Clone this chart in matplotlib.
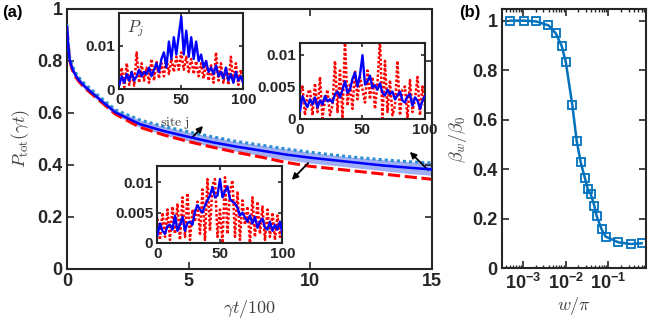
import numpy as np
import matplotlib
matplotlib.use("Agg")
import matplotlib.pyplot as plt
from matplotlib.ticker import FixedLocator, LogLocator, NullFormatter

plt.rcParams['font.family'] = ['Liberation Sans', 'DejaVu Sans']
plt.rcParams['font.weight'] = 'bold'
plt.rcParams['mathtext.fontset'] = 'custom'
plt.rcParams['mathtext.rm'] = 'Liberation Sans:bold'
plt.rcParams['mathtext.it'] = 'Liberation Sans:bold'
plt.rcParams['mathtext.bf'] = 'Liberation Sans:bold'

# ---------------- data: panel (a) main curves ----------------
t = [0, 0.05, 0.1, 0.2, 0.35, 0.5, 0.75, 1, 1.5, 2, 3, 4, 5, 6, 7, 8, 9, 10, 11, 12, 13, 14, 15]
p_red = [0.93, 0.86, 0.81, 0.77, 0.74, 0.72, 0.695, 0.675, 0.635, 0.595, 0.545, 0.515, 0.49,
         0.468, 0.448, 0.43, 0.41, 0.395, 0.385, 0.375, 0.365, 0.355, 0.345]
p_blue = [0.93, 0.86, 0.81, 0.775, 0.745, 0.725, 0.70, 0.68, 0.64, 0.602, 0.557, 0.53, 0.508,
          0.487, 0.47, 0.455, 0.44, 0.428, 0.418, 0.408, 0.398, 0.39, 0.383]
p_upper = [0.94, 0.87, 0.82, 0.785, 0.755, 0.735, 0.71, 0.69, 0.65, 0.612, 0.573, 0.548, 0.527,
           0.508, 0.49, 0.476, 0.462, 0.449, 0.438, 0.428, 0.42, 0.413, 0.408]
p_lower = [0.92, 0.85, 0.80, 0.765, 0.735, 0.715, 0.69, 0.67, 0.63, 0.592, 0.545, 0.515, 0.492,
           0.47, 0.452, 0.436, 0.42, 0.408, 0.398, 0.388, 0.378, 0.368, 0.36]

# ---------------- data: insets (site profiles, sites 0..100 step 2) ----------------
sites = list(range(0, 101, 2))
in1_blue = [0.001, 0.003, 0.0015, 0.0035, 0.002, 0.004, 0.002, 0.003, 0.0045, 0.003, 0.004,
            0.0035, 0.005, 0.003, 0.0045, 0.006, 0.004, 0.007,
            0.0085, 0.005, 0.011, 0.007, 0.012, 0.008, 0.0125,
            0.0167,
            0.008, 0.0135, 0.0075, 0.012, 0.007, 0.011, 0.0065,
            0.008, 0.005, 0.0065, 0.004, 0.005, 0.0035, 0.0055, 0.003,
            0.004, 0.0025, 0.005, 0.002, 0.0035, 0.0015, 0.004, 0.002, 0.003, 0.0015]
in1_red = [0.001, 0.005, 0.0005, 0.006, 0.001, 0.004, 0.0008, 0.0085, 0.0015, 0.006,
           0.002, 0.005, 0.0015, 0.007, 0.002, 0.0065, 0.0025, 0.006, 0.003, 0.0075,
           0.0035, 0.007, 0.004, 0.0075, 0.0045, 0.0085, 0.0045, 0.0075, 0.004, 0.007,
           0.0035, 0.0065, 0.003, 0.006, 0.0025, 0.0065, 0.002, 0.0055, 0.0015, 0.0085,
           0.002, 0.006, 0.0015, 0.005, 0.001, 0.0075, 0.0015, 0.006, 0.001, 0.0045, 0.0008]
in2_blue = [0.0012, 0.0035, 0.0025, 0.0018, 0.003, 0.0022, 0.0033, 0.0017, 0.0028, 0.0022,
            0.0035, 0.0027, 0.003, 0.0025, 0.0038, 0.0042, 0.0033, 0.0045, 0.0058, 0.004,
            0.0045, 0.0062, 0.0072, 0.005, 0.0068, 0.0099, 0.0053, 0.0058, 0.0067, 0.0048,
            0.0052, 0.0045, 0.0055, 0.004, 0.0036, 0.0045, 0.0038, 0.0042, 0.003, 0.0036,
            0.0042, 0.0028, 0.0025, 0.0035, 0.0038, 0.002, 0.0033, 0.0028, 0.0015, 0.0028, 0.0035]
in2_red = [0.004, 0.005, 0.0005, 0.004, 0.0045, 0.0005, 0.0055, 0.001, 0.0065, 0.0,
           0.003, 0.0045, 0.0005, 0.002, 0.009, 0.001, 0.0075, 0.0, 0.0125, 0.002,
           0.0055, 0.0015, 0.0075, 0.003, 0.0065, 0.0045, 0.0025, 0.0075, 0.003, 0.0065,
           0.0015, 0.0055, 0.0125, 0.0, 0.009, 0.001, 0.006, 0.0005, 0.002, 0.009,
           0.0005, 0.0045, 0.005, 0.0, 0.006, 0.001, 0.003, 0.0065, 0.0005, 0.005, 0.002]
in3_blue = [0.0013, 0.0032, 0.002, 0.0015, 0.0028, 0.003, 0.0022, 0.0045, 0.002, 0.003,
            0.0043, 0.002, 0.0033, 0.0035, 0.003, 0.0052, 0.0062, 0.0055, 0.005, 0.0062,
            0.007, 0.0078, 0.0092, 0.0075, 0.0078, 0.0105, 0.0075, 0.0085, 0.0093, 0.0072,
            0.0068, 0.0065, 0.0058, 0.0045, 0.005, 0.0042, 0.0035, 0.0045, 0.0032, 0.0043,
            0.0025, 0.0035, 0.004, 0.0025, 0.0022, 0.0035, 0.002, 0.003, 0.0022, 0.0035, 0.0015]
in3_red = [0.004, 0.0005, 0.005, 0.001, 0.0055, 0.0005, 0.006, 0.0015, 0.0065, 0.0005,
           0.0075, 0.001, 0.0082, 0.0005, 0.0055, 0.0035, 0.0068, 0.0015, 0.0088, 0.0005,
           0.0105, 0.002, 0.0095, 0.0105, 0.001, 0.0055, 0.0, 0.0108, 0.0015, 0.0085,
           0.0103, 0.001, 0.0085, 0.0005, 0.007, 0.003, 0.006, 0.0, 0.0075, 0.001,
           0.0068, 0.0015, 0.006, 0.0005, 0.0055, 0.001, 0.005, 0.0005, 0.0045, 0.001, 0.004]

# ---------------- data: panel (b) ----------------
w_over_pi = [5.1e-4, 1.07e-3, 2.05e-3, 3.98e-3, 5.9e-3, 8.1e-3, 1.01e-2, 1.44e-2, 1.82e-2,
             2.26e-2, 2.85e-2, 3.29e-2, 3.87e-2, 4.71e-2, 5.34e-2, 6.99e-2, 8.66e-2,
             0.171, 0.332, 0.60]
beta_ratio = [1.0, 1.0, 0.997, 0.981, 0.949, 0.898, 0.834, 0.659, 0.515, 0.428, 0.363,
              0.320, 0.300, 0.253, 0.211, 0.157, 0.128, 0.105, 0.098, 0.101]

FRAME = '#262626'
MBLUE = '#0072BD'

fig = plt.figure(figsize=(6.54, 3.27), dpi=100)


def style_axes(ax, lw=1.5, size=12, tl=4):
    for s in ax.spines.values():
        s.set_linewidth(lw)
        s.set_color(FRAME)
    ax.tick_params(direction='in', top=True, right=True, length=tl, width=1.2,
                   colors=FRAME, labelcolor=FRAME, labelsize=size, pad=3)
    for lab in ax.get_xticklabels() + ax.get_yticklabels():
        lab.set_fontweight('bold')


# ---------------- panel (a) ----------------
axa = fig.add_axes([0.1024, 0.1774, 0.5581, 0.7951])
axa.fill_between(t, p_lower, p_upper, color='#8fa0f2', alpha=0.85, lw=0, zorder=1)
axa.plot(t, p_red, color='red', ls=(0, (4, 1.5)), lw=2.2, zorder=2)
axa.plot(t, p_upper, color='#2f8fd3', ls=(0, (1, 1)), lw=2.2, zorder=3)
axa.plot(t, p_blue, color='#0000ff', lw=1.8, zorder=4)
axa.set_xlim(0, 15)
axa.set_ylim(0, 1)
axa.set_xticks([0, 5, 10, 15])
axa.set_xticklabels(['0', '5', '10', '15'])
axa.set_yticks([0, 0.2, 0.4, 0.6, 0.8, 1])
axa.set_yticklabels(['0', '0.2', '0.4', '0.6', '0.8', '1'])
style_axes(axa, size=13, tl=5)
axa.set_ylabel(r'$P_{\rm tot}(\gamma t)$', fontsize=13, fontweight='normal',
               math_fontfamily='cm', color='#404040', labelpad=4)
axa.set_xlabel(r'$\gamma t/100$', fontsize=13, fontweight='normal',
               math_fontfamily='cm', color='#404040', labelpad=6)

arrow_kw = dict(arrowstyle='-|>', color='black', lw=1.3, mutation_scale=9)
axa.annotate('', xy=(5.67, 0.558), xytext=(5.05, 0.496), arrowprops=arrow_kw)
axa.annotate('', xy=(14.01, 0.458), xytext=(14.92, 0.373), arrowprops=arrow_kw)
axa.annotate('', xy=(9.16, 0.335), xytext=(9.99, 0.415), arrowprops=arrow_kw)
axa.text(4.45, 0.562, r'$\mathrm{site\ j}$', fontsize=10, math_fontfamily='cm',
         color='#404040', ha='center', va='center', zorder=6)

fig.text(0.003, 0.985, '(a)', fontsize=12, fontweight='bold', va='top', ha='left')
fig.text(0.702, 0.985, '(b)', fontsize=12, fontweight='bold', va='top', ha='left')


def make_inset(rect, blue, red, ytop, yt, ylabs):
    ax = fig.add_axes(rect)
    ax.set_facecolor('white')
    ax.plot(sites, red, color='red', ls=(0, (1, 0.8)), lw=1.8, zorder=2)
    ax.plot(sites, blue, color='#0000ff', lw=1.7, zorder=3)
    ax.set_xlim(0, 100)
    ax.set_ylim(0, ytop)
    ax.set_xticks([0, 50, 100])
    ax.set_xticklabels(['0', '50', '100'])
    ax.set_yticks(yt)
    ax.set_yticklabels(ylabs)
    style_axes(ax, lw=1.5, size=11, tl=3)
    ax.set_zorder(5)
    return ax


ins1 = make_inset([0.1824, 0.7269, 0.1896, 0.2324], in1_blue, in1_red, 0.0175,
                  [0, 0.01], ['0', '0.01'])
ins1.text(0.06, 0.80, r'$P_j$', transform=ins1.transAxes, fontsize=12,
          math_fontfamily='cm', color='#404040', va='center')
ins2 = make_inset([0.4587, 0.6376, 0.1911, 0.2309], in2_blue, in2_red, 0.0118,
                  [0, 0.005, 0.01], ['0', '0.005', '0.01'])
ins3 = make_inset([0.2408, 0.2569, 0.1911, 0.2364], in3_blue, in3_red, 0.0127,
                  [0, 0.005, 0.01], ['0', '0.005', '0.01'])

# ---------------- panel (b) ----------------
axb = fig.add_axes([0.7671, 0.1795, 0.2202, 0.7921])
axb.plot(w_over_pi, beta_ratio, color=MBLUE, lw=1.8, marker='s', ms=6,
         mfc='none', mec=MBLUE, mew=1.3)
axb.set_xscale('log')
axb.set_xlim(3.2e-4, 0.75)
axb.set_ylim(0, 1.046)
axb.set_yticks([0, 0.2, 0.4, 0.6, 0.8, 1])
axb.set_yticklabels(['0', '0.2', '0.4', '0.6', '0.8', '1'])
axb.xaxis.set_major_locator(FixedLocator([1e-3, 1e-2, 1e-1]))
axb.set_xticklabels([r'$10^{-3}$', r'$10^{-2}$', r'$10^{-1}$'])
axb.xaxis.set_minor_locator(LogLocator(base=10, subs=np.arange(2, 10)))
axb.xaxis.set_minor_formatter(NullFormatter())
style_axes(axb, size=13, tl=5)
axb.tick_params(which='minor', direction='in', top=True, length=2.5, width=1.0, colors=FRAME)
axb.set_ylabel(r'$\beta_w/\beta_0$', fontsize=13, fontweight='normal',
               math_fontfamily='cm', color='#404040', labelpad=2)
axb.set_xlabel(r'$w/\pi$', fontsize=13, fontweight='normal',
               math_fontfamily='cm', color='#404040', labelpad=2)

fig.savefig('out.png', dpi=100)
